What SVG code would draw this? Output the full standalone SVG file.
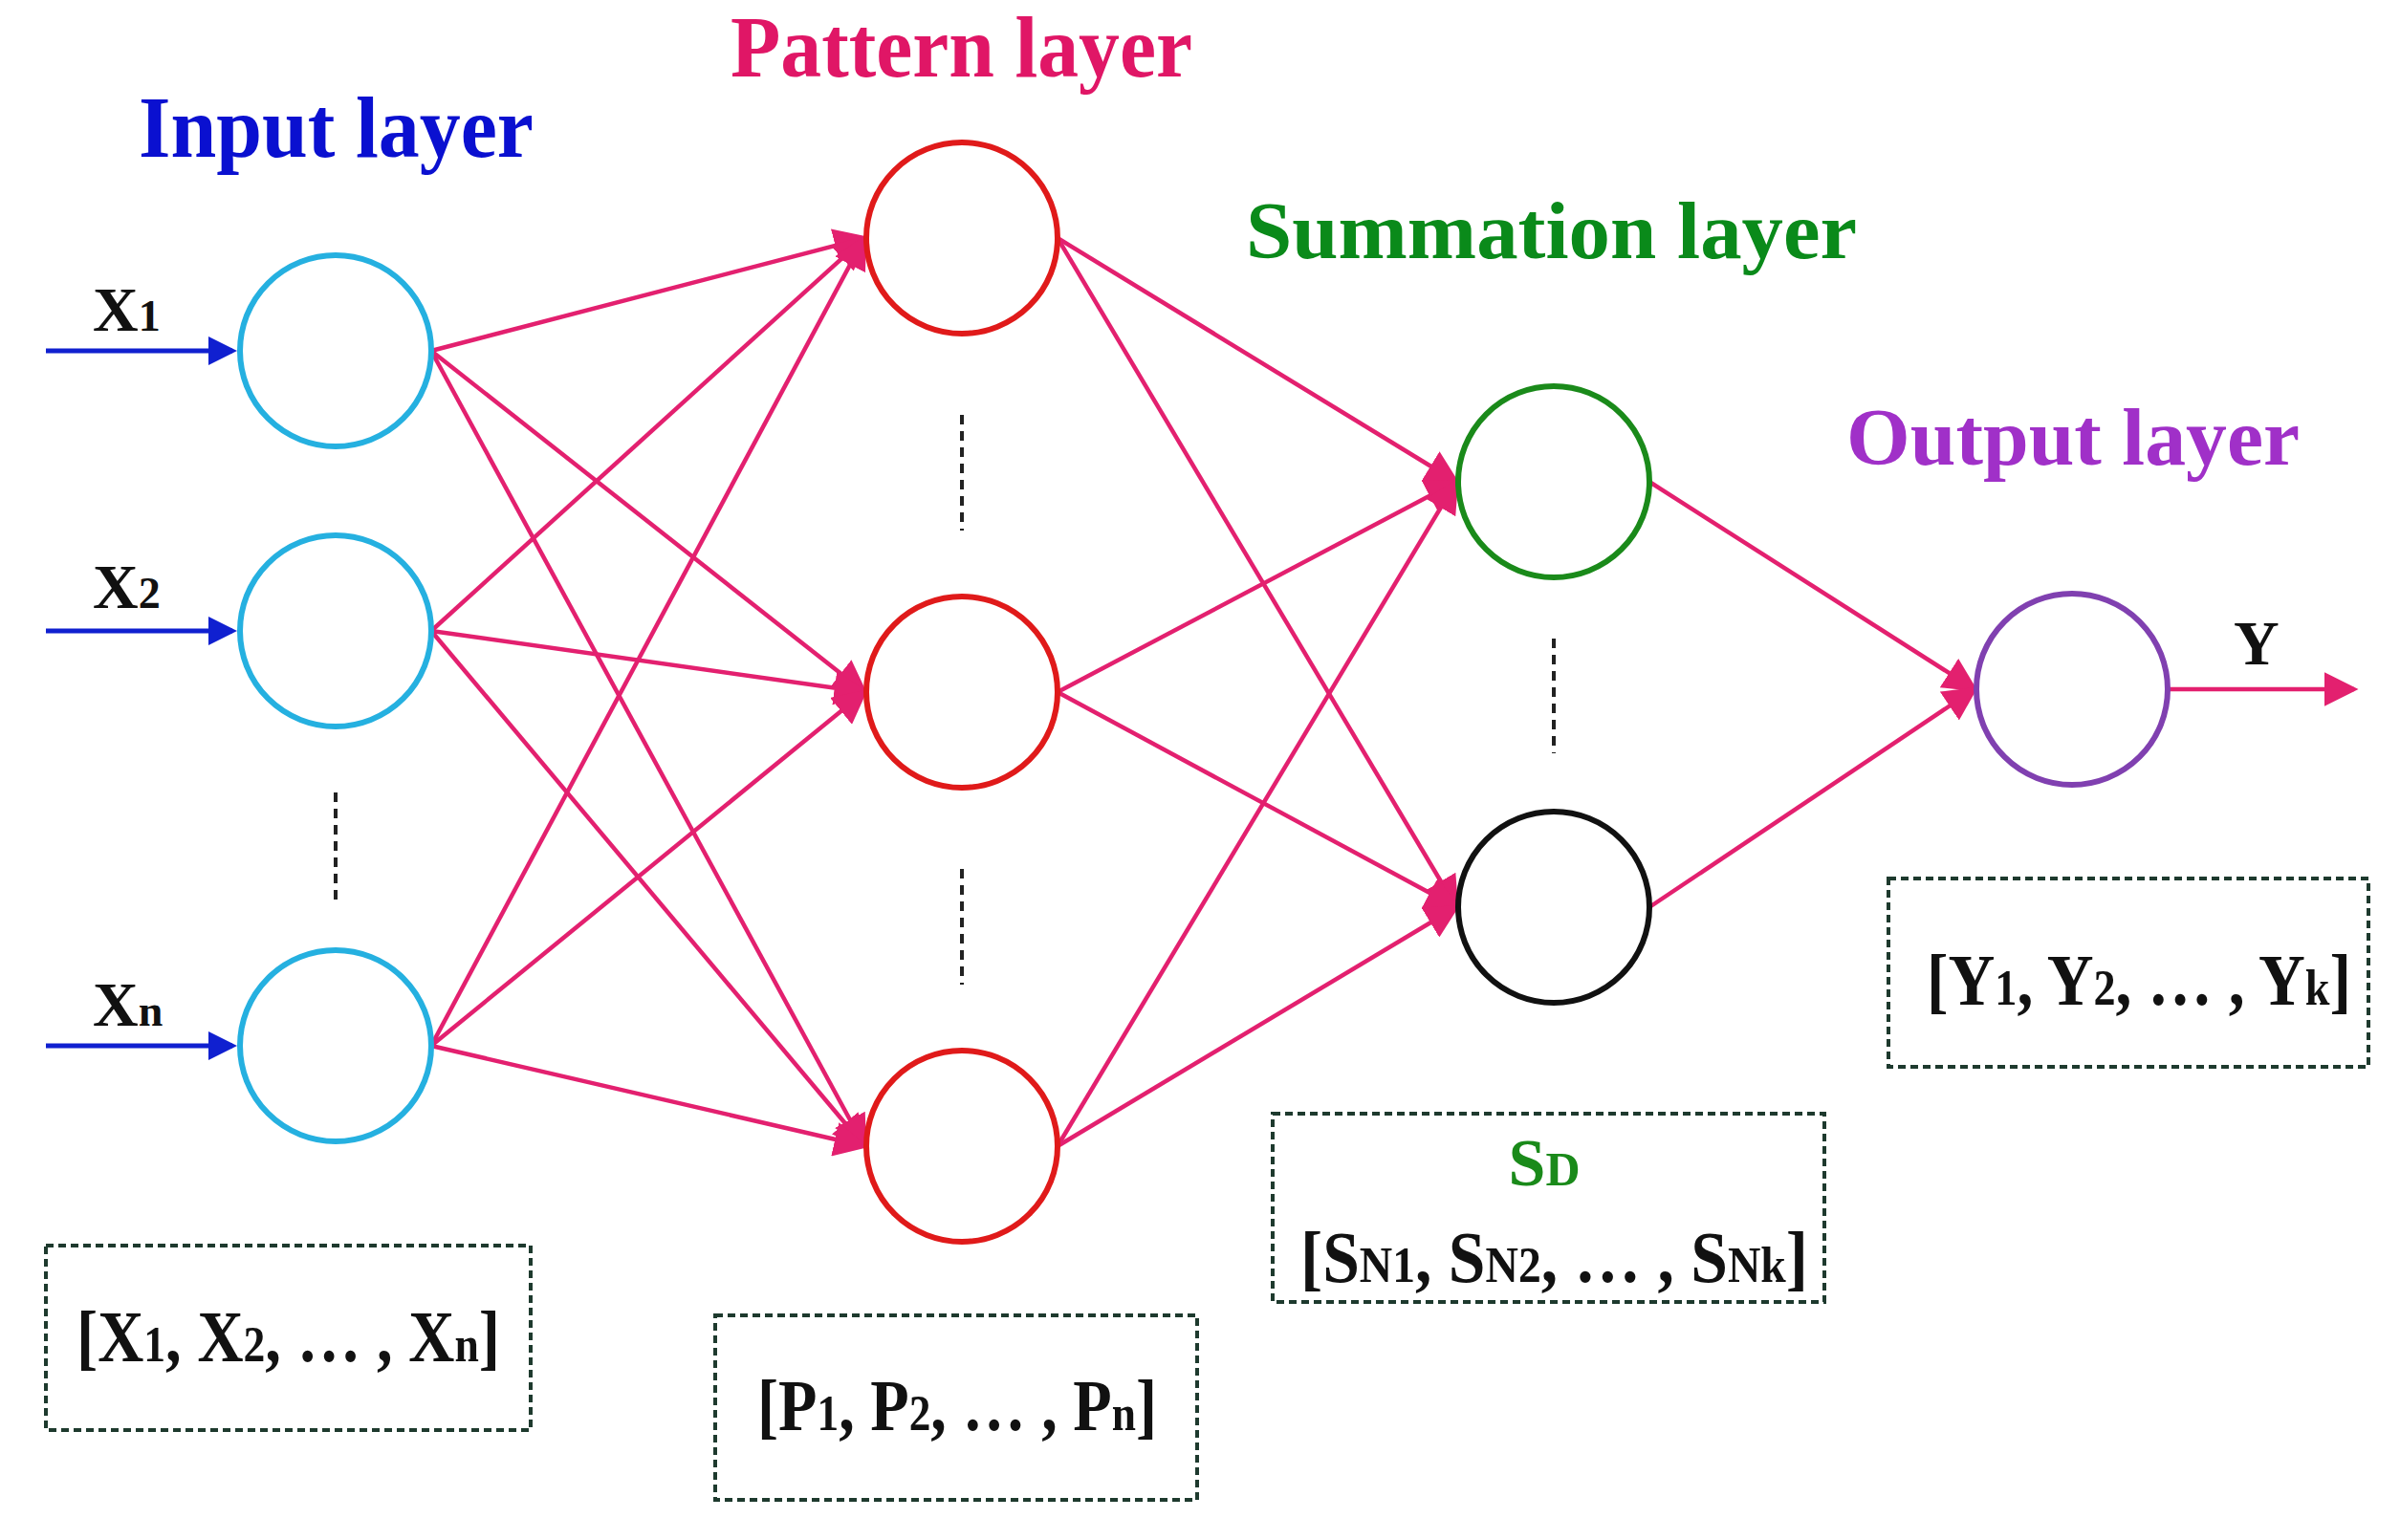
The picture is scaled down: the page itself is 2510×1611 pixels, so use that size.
<svg xmlns="http://www.w3.org/2000/svg" width="2510" height="1611" viewBox="0 0 2510 1611">
<style>
.t{font-family:"Liberation Serif","Times New Roman",serif;font-weight:bold}
.c{fill:none;stroke-width:6}
.e{stroke:#e3206f;stroke-width:4.5;fill:none;marker-end:url(#ap)}
.in{stroke:#1020d0;stroke-width:5;marker-end:url(#ab)}
.dash{stroke:#222;stroke-width:4;stroke-dasharray:10 7}
.box{fill:none;stroke:#1e3a2e;stroke-width:4;stroke-dasharray:8 5}
.bt{font-size:76px;fill:#111}
</style>
<defs>
<marker id="ap" markerWidth="8" markerHeight="8" refX="7" refY="4" orient="auto" markerUnits="strokeWidth"><path d="M0,0 L8,4 L0,8 Z" fill="#e3206f"/></marker>
<marker id="ab" markerWidth="6" markerHeight="6" refX="5" refY="3" orient="auto" markerUnits="strokeWidth"><path d="M0,0 L6,3 L0,6 Z" fill="#1020d0"/></marker>
</defs>
<rect width="2510" height="1611" fill="#fff"/>
<text class="t" x="145" y="164" font-size="92" fill="#0a10d0" textLength="413" lengthAdjust="spacingAndGlyphs">Input layer</text>
<text class="t" x="764" y="80" font-size="92" fill="#e01666" textLength="483" lengthAdjust="spacingAndGlyphs">Pattern layer</text>
<text class="t" x="1303" y="270" font-size="84" fill="#0a8a1a" textLength="639" lengthAdjust="spacingAndGlyphs">Summation layer</text>
<text class="t" x="1931" y="486" font-size="84" fill="#a030c8" textLength="474" lengthAdjust="spacingAndGlyphs">Output layer</text>
<g id="connectors">
<line class="e" x1="451" y1="367" x2="904" y2="249"/>
<line class="e" x1="451" y1="367" x2="904" y2="724"/>
<line class="e" x1="451" y1="367" x2="904" y2="1199"/>
<line class="e" x1="451" y1="660" x2="904" y2="249"/>
<line class="e" x1="451" y1="660" x2="904" y2="724"/>
<line class="e" x1="451" y1="660" x2="904" y2="1199"/>
<line class="e" x1="451" y1="1094" x2="904" y2="249"/>
<line class="e" x1="451" y1="1094" x2="904" y2="724"/>
<line class="e" x1="451" y1="1094" x2="904" y2="1199"/>
<line class="e" x1="1106" y1="249" x2="1523" y2="504"/>
<line class="e" x1="1106" y1="249" x2="1523" y2="949"/>
<line class="e" x1="1106" y1="724" x2="1523" y2="504"/>
<line class="e" x1="1106" y1="724" x2="1523" y2="949"/>
<line class="e" x1="1106" y1="1199" x2="1523" y2="504"/>
<line class="e" x1="1106" y1="1199" x2="1523" y2="949"/>
<line class="e" x1="1725" y1="504" x2="2065" y2="721"/>
<line class="e" x1="1725" y1="949" x2="2065" y2="721"/>
<line class="e" x1="2269" y1="721" x2="2462" y2="721"/>
<line class="in" x1="48" y1="367" x2="243" y2="367"/>
<line class="in" x1="48" y1="660" x2="243" y2="660"/>
<line class="in" x1="48" y1="1094" x2="243" y2="1094"/>
</g>
<text class="t" x="97" y="346" font-size="66" fill="#111">X<tspan font-size="46">1</tspan></text>
<text class="t" x="97" y="636" font-size="66" fill="#111">X<tspan font-size="46">2</tspan></text>
<text class="t" x="97" y="1073" font-size="66" fill="#111">X<tspan font-size="46">n</tspan></text>
<text class="t" x="2336" y="695" font-size="66" fill="#111">Y</text>
<g id="input-nodes">
<circle class="c" cx="351" cy="367" r="100" stroke="#25b0e0"/>
<circle class="c" cx="351" cy="660" r="100" stroke="#25b0e0"/>
<circle class="c" cx="351" cy="1094" r="100" stroke="#25b0e0"/>
</g>
<g id="pattern-nodes">
<circle class="c" cx="1006" cy="249" r="100" stroke="#e01a1a"/>
<circle class="c" cx="1006" cy="724" r="100" stroke="#e01a1a"/>
<circle class="c" cx="1006" cy="1199" r="100" stroke="#e01a1a"/>
</g>
<g id="summation-nodes">
<circle class="c" cx="1625" cy="504" r="100" stroke="#1a8a1a"/>
<circle class="c" cx="1625" cy="949" r="100" stroke="#111"/>
</g>
<g id="output-node">
<circle class="c" cx="2167" cy="721" r="100" stroke="#8040b0"/>
</g>
<line class="dash" x1="351" y1="829" x2="351" y2="941"/>
<line class="dash" x1="1006" y1="434" x2="1006" y2="555"/>
<line class="dash" x1="1006" y1="909" x2="1006" y2="1030"/>
<line class="dash" x1="1625" y1="668" x2="1625" y2="788"/>
<g id="input-box">
<rect class="box" x="48" y="1303" width="507" height="193"/>
<text class="t bt" x="80" y="1424" textLength="443" lengthAdjust="spacingAndGlyphs">[X<tspan font-size="52">1</tspan>, X<tspan font-size="52">2</tspan>, … , X<tspan font-size="52">n</tspan>]</text>
</g>
<g id="pattern-box">
<rect class="box" x="748" y="1376" width="504" height="193"/>
<text class="t bt" x="792" y="1496" textLength="418" lengthAdjust="spacingAndGlyphs">[P<tspan font-size="52">1</tspan>, P<tspan font-size="52">2</tspan>, … , P<tspan font-size="52">n</tspan>]</text>
</g>
<g id="summation-box">
<rect class="box" x="1331" y="1165" width="577" height="197"/>
<text class="t" x="1615" y="1240" text-anchor="middle" font-size="70" fill="#1a8a1a">S<tspan font-size="50">D</tspan></text>
<text class="t bt" x="1360" y="1341" textLength="531" lengthAdjust="spacingAndGlyphs">[S<tspan font-size="52">N1</tspan>, S<tspan font-size="52">N2</tspan>, … , S<tspan font-size="52">Nk</tspan>]</text>
</g>
<g id="output-box">
<rect class="box" x="1975" y="919" width="502" height="197"/>
<text class="t bt" x="2015" y="1051" textLength="444" lengthAdjust="spacingAndGlyphs">[Y<tspan font-size="52">1</tspan>, Y<tspan font-size="52">2</tspan>, … , Y<tspan font-size="52">k</tspan>]</text>
</g>
</svg>
